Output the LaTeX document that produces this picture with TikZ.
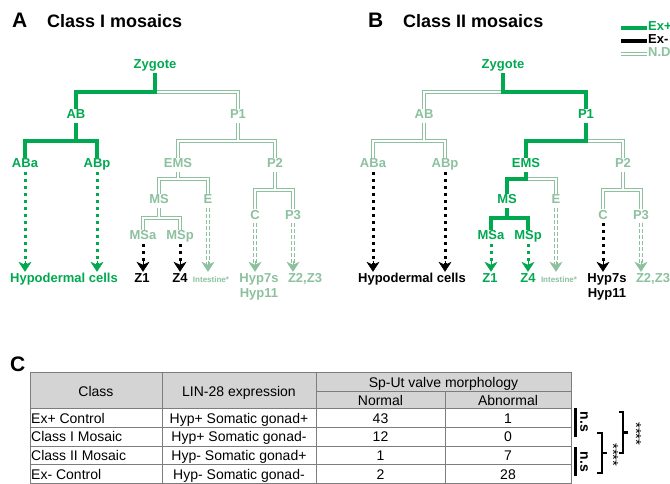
\documentclass[tikz,border=0pt]{standalone}
\usepackage{fontspec}
\setmainfont{Liberation Sans}
\usetikzlibrary{arrows.meta}

\definecolor{expos}{RGB}{0,168,80}
\definecolor{notdet}{RGB}{140,192,158}
\definecolor{headgray}{RGB}{212,212,212}
\definecolor{rulegray}{RGB}{125,125,125}

\tikzset{
  cell/.style={font=\bfseries\fontsize{13}{15}\selectfont, inner sep=1pt, text height=9pt, text depth=3pt},
  labpos/.style={cell, text=expos},
  labneg/.style={cell, text=black},
  labnd/.style={cell, text=notdet},
  linepos/.style={draw=expos, line width=3.5pt},
  lineneg/.style={draw=black, line width=3.5pt},
  linend/.style={draw=notdet, line width=1.3pt, double=white, double distance=1.7pt},
  headtip/.style={solid, line width=0.6pt, -{Stealth[length=10pt, width=13pt, inset=3pt]}},
  flowpos/.style={expos, line width=3pt, dash pattern=on 3pt off 4pt, shorten >=6pt},
  flowneg/.style={black, line width=3pt, dash pattern=on 3pt off 4pt, shorten >=6pt},
  flownd/.style={linend, dash pattern=on 3.5pt off 2.5pt, shorten >=6pt},
  headpos/.style={expos, headtip},
  headneg/.style={black, headtip},
  headnd/.style={notdet, headtip},
  title/.style={font=\bfseries\fontsize{18}{21}\selectfont, anchor=base west, inner sep=0pt},
  tag/.style={font=\bfseries\fontsize{21}{24}\selectfont, anchor=base west, inner sep=0pt},
  tab/.style={font=\fontsize{14}{16}\selectfont, inner sep=0pt, anchor=base},
  rule/.style={draw=rulegray, line width=0.8pt},
  sig/.style={font=\bfseries\fontsize{14}{16}\selectfont, rotate=-90, inner sep=0pt},
  stars/.style={font=\fontsize{15}{16}\selectfont, rotate=-90, inner sep=0pt},
  brk/.style={line width=2.5pt}
}

\begin{document}
\begin{tikzpicture}[x=1pt, y=-1pt]
  \useasboundingbox (0,0) rectangle (670,484);

  \node[tag] (tagA) at (12,28) {A};
  \node[title] (titleA) at (47,28) {Class I mosaics};
  \node[tag] (tagB) at (368,28) {B};
  \node[title] (titleB) at (403,28) {Class II mosaics};
  \node[tag] (tagC) at (10,371) {C};

  % legend
  \node[labpos, anchor=west] (keypos) at (647,28) {Ex+};
  \node[labneg, anchor=west] (keyneg) at (647,41) {Ex-};
  \node[labnd, anchor=west] (keynd) at (647,54) {N.D.};
  \draw[linepos, line width=4pt] (keypos.west) -- ++(-26,0);
  \draw[lineneg, line width=4pt] (keyneg.west) -- ++(-26,0);
  \draw[linend] (keynd.west) -- ++(-26,0);

  % panel A
  \node[labpos] (zyg) at (155,66) {Zygote};
  \node[labpos] (ab) at (76,116) {AB};
  \node[labnd] (p1) at (238,116) {P1};
  \node[labpos] (aba) at (25,165) {ABa};
  \node[labpos] (abp) at (97,165) {ABp};
  \node[labnd] (ems) at (178,165) {EMS};
  \node[labnd] (ptwo) at (275,165) {P2};
  \node[labnd] (ms) at (159,201) {MS};
  \node[labnd] (e) at (208,201) {E};
  \node[labnd] (msa) at (143,237) {MSa};
  \node[labnd] (msp) at (180,237) {MSp};
  \node[labnd] (c) at (255,216) {C};
  \node[labnd] (pthree) at (293,216) {P3};

  \node[labpos] (hyp) at (64,279) {Hypodermal cells};
  \node[labneg] (zone) at (142,279) {Z1};
  \node[labneg] (zfour) at (180,279) {Z4};
  \node[labnd, font=\bfseries\fontsize{8}{9}\selectfont] (intest) at (211,279) {Intestine*};
  \node[labnd] (hypsev) at (259,279) {Hyp7s};
  \node[labnd] (hypel) at (259,295) {Hyp11};
  \node[labnd] (ztwo) at (305,279) {Z2,Z3};

  \draw[linend] (zyg.south) -- ++(0,19) -| (p1.north);
  \draw[linepos] (zyg.south) -- ++(0,19) -| (ab.north);
  \draw[linepos] (ab.south) -- ++(0,18) -| (aba.north) (ab.south) ++(0,18) -| (abp.north);
  \draw[linend] (p1.south) -- ++(0,18) -| (ems.north) (p1.south) ++(0,18) -| (ptwo.north);
  \draw[linend] (ems.south) -- ++(0,7) -| (ms.north) (ems.south) ++(0,7) -| (e.north);
  \draw[linend] (ms.south) -- ++(0,10) -| (msa.north) (ms.south) ++(0,10) -| (msp.north);
  \draw[linend] (ptwo.south) -- ++(0,18) -| (c.north) (ptwo.south) ++(0,18) -| (pthree.north);

  \foreach \from/\to in {aba/hyp, abp/hyp} {
    \draw[flowpos] (\from.south) -- (\from.south |- \to.north);
    \draw[headpos] (\from.south |- \to.north) ++(0,-11) -- (\from.south |- \to.north);
  }
  \foreach \from/\to in {msa/zone, msp/zfour} {
    \draw[flowneg] (\from.south) -- (\from.south |- \to.north);
    \draw[headneg] (\from.south |- \to.north) ++(0,-11) -- (\from.south |- \to.north);
  }
  \foreach \from/\to in {e/intest, c/hypsev, pthree/ztwo} {
    \draw[flownd] (\from.south) -- (\from.south |- \to.north);
    \draw[headnd] (\from.south |- \to.north) ++(0,-11) -- (\from.south |- \to.north);
  }

  % panel B
  \begin{scope}[xshift=348pt]
  \node[labpos] (bzyg) at (155,66) {Zygote};
  \node[labnd] (bab) at (76,116) {AB};
  \node[labpos] (bp1) at (238,116) {P1};
  \node[labnd] (baba) at (25,165) {ABa};
  \node[labnd] (babp) at (97,165) {ABp};
  \node[labpos] (bems) at (178,165) {EMS};
  \node[labnd] (bptwo) at (275,165) {P2};
  \node[labpos] (bms) at (159,201) {MS};
  \node[labnd] (be) at (208,201) {E};
  \node[labpos] (bmsa) at (143,237) {MSa};
  \node[labpos] (bmsp) at (180,237) {MSp};
  \node[labnd] (bc) at (255,216) {C};
  \node[labnd] (bpthree) at (293,216) {P3};

  \node[labneg] (bhyp) at (64,279) {Hypodermal cells};
  \node[labpos] (bzone) at (142,279) {Z1};
  \node[labpos] (bzfour) at (180,279) {Z4};
  \node[labnd, font=\bfseries\fontsize{8}{9}\selectfont] (bintest) at (211,279) {Intestine*};
  \node[labneg] (bhypsev) at (259,279) {Hyp7s};
  \node[labneg] (bhypel) at (259,295) {Hyp11};
  \node[labnd] (bztwo) at (305,279) {Z2,Z3};

  \draw[linend] (bzyg.south) -- ++(0,19) -| (bab.north);
  \draw[linepos] (bzyg.south) -- ++(0,19) -| (bp1.north);
  \draw[linend] (bab.south) -- ++(0,18) -| (baba.north) (bab.south) ++(0,18) -| (babp.north);
  \draw[linend] (bp1.south) -- ++(0,18) -| (bptwo.north);
  \draw[linepos] (bp1.south) -- ++(0,18) -| (bems.north);
  \draw[linend] (bems.south) -- ++(0,7) -| (be.north);
  \draw[linepos] (bems.south) -- ++(0,7) -| (bms.north);
  \draw[linepos] (bms.south) -- ++(0,10) -| (bmsa.north) (bms.south) ++(0,10) -| (bmsp.north);
  \draw[linend] (bptwo.south) -- ++(0,18) -| (bc.north) (bptwo.south) ++(0,18) -| (bpthree.north);

  \foreach \from/\to in {baba/bhyp, babp/bhyp, bc/bhypsev} {
    \draw[flowneg] (\from.south) -- (\from.south |- \to.north);
    \draw[headneg] (\from.south |- \to.north) ++(0,-11) -- (\from.south |- \to.north);
  }
  \foreach \from/\to in {bmsa/bzone, bmsp/bzfour} {
    \draw[flowpos] (\from.south) -- (\from.south |- \to.north);
    \draw[headpos] (\from.south |- \to.north) ++(0,-11) -- (\from.south |- \to.north);
  }
  \foreach \from/\to in {be/bintest, bpthree/bztwo} {
    \draw[flownd] (\from.south) -- (\from.south |- \to.north);
    \draw[headnd] (\from.south |- \to.north) ++(0,-11) -- (\from.south |- \to.north);
  }
  \end{scope}

  % table C
  \fill[headgray] (30,372) rectangle (571,408);
  \draw[rule] (30,372) rectangle (571,483);
  \draw[rule] (316,391) -- (571,391);
  \foreach \y in {408,427,446,464}
    \draw[rule] (30,\y) -- (571,\y);
  \foreach \x in {162,316}
    \draw[rule] (\x,372) -- (\x,483);
  \draw[rule] (445,391) -- (445,483);

  \node[tab] (hclass) at (96,396) {Class};
  \node[tab] (hlin) at (239,396) {LIN-28 expression};
  \node[tab] (hvalve) at (443.5,387) {Sp-Ut valve morphology};
  \node[tab] (hnorm) at (380.5,405) {Normal};
  \node[tab] (habn) at (508,405) {Abnormal};

  \foreach \cls/\lin/\nor/\abn [count=\i] in {Ex+ Control/Hyp+ Somatic gonad+/43/1,
      Class I Mosaic/Hyp+ Somatic gonad-/12/0,
      Class II Mosaic/Hyp- Somatic gonad+/1/7,
      Ex- Control/Hyp- Somatic gonad-/2/28} {
    \pgfmathsetmacro\base{423+18.67*(\i-1)}
    \node[tab, anchor=base west] (cls\i) at (31,\base) {\cls};
    \node[tab] (lin\i) at (239,\base) {\lin};
    \node[tab] (nor\i) at (380.5,\base) {\nor};
    \node[tab] (abn\i) at (508,\base) {\abn};
  }

  % significance
  \draw[line width=3pt] (575,408) -- (575,437);
  \draw[line width=3pt] (575,447) -- (575,476);
  \node[sig] (nsone) at (584,422) {n.s};
  \node[sig] (nstwo) at (584,462) {n.s};
  \draw[brk] (619,412) -- (623,412) -- (623,453) -- (619,453) (623,432.5) -- (628,432.5);
  \draw[brk] (597,433) -- (602,433) -- (602,473) -- (597,473) (602,453) -- (607,453);
  \node[stars] (starone) at (636,434) {****};
  \node[stars] (startwo) at (613,455) {****};
\end{tikzpicture}
\end{document}
